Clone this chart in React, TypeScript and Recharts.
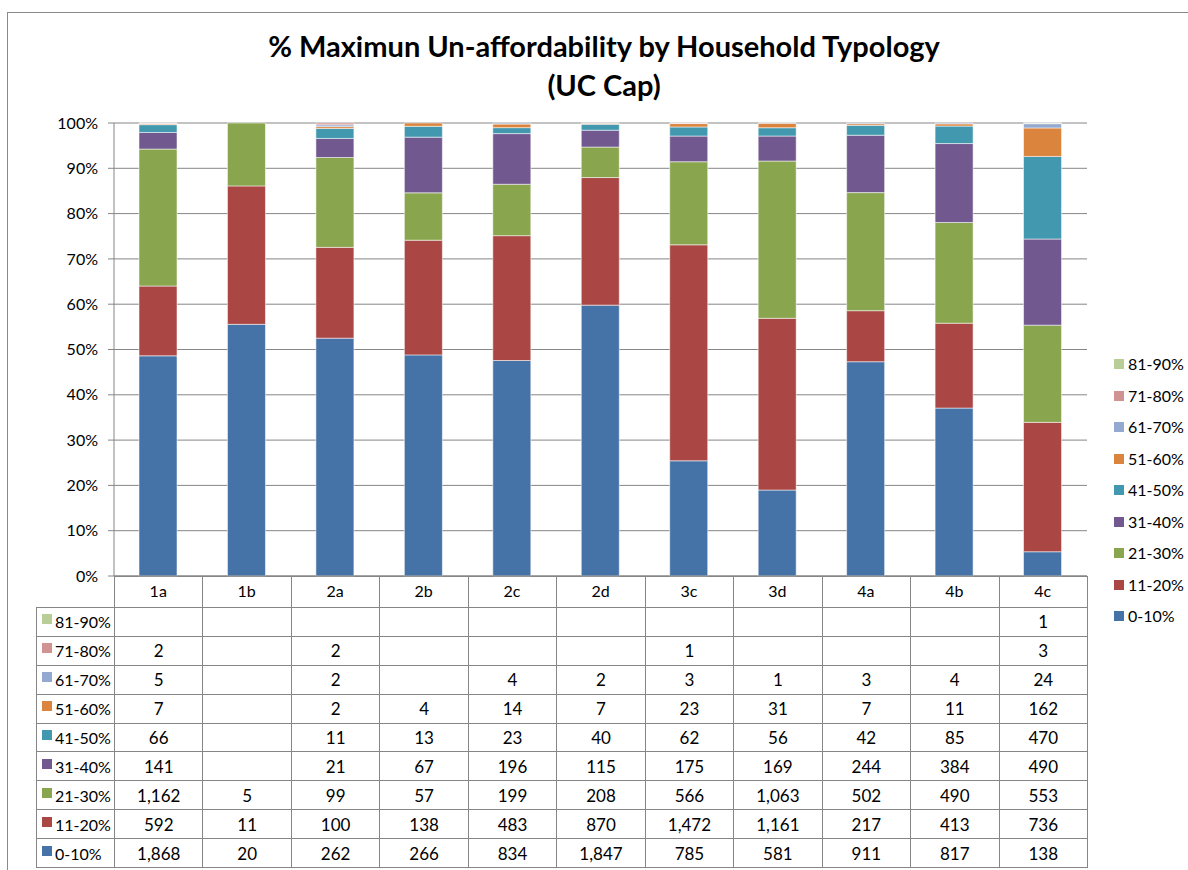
import { BarChart, Bar, XAxis, YAxis, CartesianGrid } from 'recharts'

const categories = ['1a', '1b', '2a', '2b', '2c', '2d', '3c', '3d', '4a', '4b', '4c']

// household counts per un-affordability band (blank cells are null)
const band0to10 = [1868, 20, 262, 266, 834, 1847, 785, 581, 911, 817, 138]
const band11to20 = [592, 11, 100, 138, 483, 870, 1472, 1161, 217, 413, 736]
const band21to30 = [1162, 5, 99, 57, 199, 208, 566, 1063, 502, 490, 553]
const band31to40 = [141, null, 21, 67, 196, 115, 175, 169, 244, 384, 490]
const band41to50 = [66, null, 11, 13, 23, 40, 62, 56, 42, 85, 470]
const band51to60 = [7, null, 2, 4, 14, 7, 23, 31, 7, 11, 162]
const band61to70 = [5, null, 2, null, 4, 2, 3, 1, 3, 4, 24]
const band71to80 = [2, null, 2, null, null, null, 1, null, null, null, 3]
const band81to90 = [null, null, null, null, null, null, null, null, null, null, 1]

const yTicks = [0, 0.1, 0.2, 0.3, 0.4, 0.5, 0.6, 0.7, 0.8, 0.9, 1]

const series = [
  { name: '0-10%', color: '#4572A7', values: band0to10 },
  { name: '11-20%', color: '#AA4643', values: band11to20 },
  { name: '21-30%', color: '#89A54E', values: band21to30 },
  { name: '31-40%', color: '#71588F', values: band31to40 },
  { name: '41-50%', color: '#4198AF', values: band41to50 },
  { name: '51-60%', color: '#DB843D', values: band51to60 },
  { name: '61-70%', color: '#93A9CF', values: band61to70 },
  { name: '71-80%', color: '#D19392', values: band71to80 },
  { name: '81-90%', color: '#B9CD96', values: band81to90 },
]

const data = categories.map((cat, i) => {
  const row: Record<string, string | number | null> = { category: cat }
  series.forEach((s) => {
    row[s.name] = s.values[i]
  })
  return row
})

const FONT = 'Lato, "Open Sans", sans-serif'
const GRID = '#868686'

// plot geometry (page pixels)
const PLOT_LEFT = 114
const PLOT_RIGHT = 1087
const PLOT_TOP = 123
const PLOT_BOTTOM = 576
const HEADER_H = 31
const ROW_H = 28.9
const LABEL_COL_LEFT = 36

const fmt = (v: number | null) => (v == null ? '' : v.toLocaleString('en-US'))

function DataTable() {
  const colW = (PLOT_RIGHT - PLOT_LEFT) / categories.length
  const rows = [...series].reverse()
  const cell = {
    border: `1px solid ${GRID}`,
    padding: 0,
    textAlign: 'center' as const,
    fontSize: 17,
    color: '#000',
  }
  return (
    <table
      style={{
        position: 'absolute',
        left: LABEL_COL_LEFT,
        top: PLOT_BOTTOM,
        width: PLOT_RIGHT - LABEL_COL_LEFT + 1,
        borderCollapse: 'collapse',
        tableLayout: 'fixed',
        fontFamily: FONT,
      }}
    >
      <colgroup>
        <col style={{ width: PLOT_LEFT - LABEL_COL_LEFT }} />
        {categories.map((c) => (
          <col key={c} style={{ width: colW }} />
        ))}
      </colgroup>
      <tbody>
        <tr style={{ height: HEADER_H }}>
          <td style={{ ...cell, borderTop: 'none', borderLeft: 'none' }} />
          {categories.map((c) => (
            <td key={c} style={cell} />
          ))}
        </tr>
        {rows.map((s) => (
          <tr key={s.name} style={{ height: ROW_H }}>
            <td
              style={{ ...cell, textAlign: 'left', paddingLeft: 5, whiteSpace: 'nowrap', fontSize: 16 }}
            >
              <span
                style={{
                  display: 'inline-block',
                  width: 10,
                  height: 10,
                  background: s.color,
                  marginRight: 3,
                  verticalAlign: 'top',
                  marginTop: 2,
                }}
              />
              {s.name}
            </td>
            {s.values.map((v, i) => (
              <td key={i} style={cell}>
                {fmt(v)}
              </td>
            ))}
          </tr>
        ))}
      </tbody>
    </table>
  )
}

function SideLegend() {
  const items = [...series].reverse()
  return (
    <div style={{ position: 'absolute', left: 1114, top: 354, fontFamily: FONT, fontSize: 16 }}>
      {items.map((s) => (
        <div key={s.name} style={{ height: 31.5, display: 'flex', alignItems: 'flex-start' }}>
          <span
            style={{ width: 10, height: 10, background: s.color, marginRight: 4, marginTop: 5 }}
          />
          <span style={{ lineHeight: '20px' }}>{s.name}</span>
        </div>
      ))}
    </div>
  )
}

export default function App() {
  const width = 1188
  const chartH = PLOT_BOTTOM + HEADER_H
  return (
    <div
      style={{
        position: 'absolute',
        left: 0,
        top: 0,
        width,
        height: 870,
        overflow: 'hidden',
        background: '#fff',
        fontFamily: FONT,
      }}
    >
      <div
        style={{
          position: 'absolute',
          left: 7,
          top: 12,
          width: 1300,
          height: 1000,
          borderTop: '1px solid #8a8a8a',
          borderLeft: '1px solid #8a8a8a',
        }}
      />
      <div
        style={{
          position: 'absolute',
          left: 0,
          width,
          top: 26,
          textAlign: 'center',
          fontWeight: 700,
          fontSize: 29,
          lineHeight: '39px',
          color: '#000',
          paddingLeft: 20,
          boxSizing: 'border-box',
        }}
      >
        % Maximun Un-affordability by Household Typology
        <br />
        (UC Cap)
      </div>
      <DataTable />
      <div style={{ position: 'absolute', left: 0, top: 0 }}>
        <BarChart
          width={width}
          height={chartH}
          data={data}
          stackOffset="expand"
          margin={{ top: PLOT_TOP, right: width - PLOT_RIGHT, bottom: 0, left: 0 }}
          barSize={38}
        >
          <CartesianGrid vertical={false} stroke={GRID} strokeWidth={1} />
          <XAxis
            dataKey="category"
            height={HEADER_H}
            axisLine={{ stroke: GRID }}
            tickLine={false}
            tickMargin={4}
            tick={{ fontSize: 16, fill: '#000', fontFamily: FONT }}
            interval={0}
          />
          <YAxis
            type="number"
            domain={[0, 1]}
            ticks={yTicks}
            width={PLOT_LEFT}
            axisLine={{ stroke: GRID }}
            tickLine={{ stroke: GRID }}
            tickSize={6}
            tickMargin={10}
            tickFormatter={(v: number) => `${Math.round(v * 100)}%`}
            tick={{ fontSize: 16, fill: '#000', fontFamily: FONT }}
            interval={0}
          />
          {series.map((s) => (
            <Bar
              key={s.name}
              dataKey={s.name}
              stackId="a"
              fill={s.color}
              stroke="#ffffff"
              strokeOpacity={0.7}
              strokeWidth={0.75}
              isAnimationActive={false}
            />
          ))}
        </BarChart>
      </div>
      <SideLegend />
    </div>
  )
}
